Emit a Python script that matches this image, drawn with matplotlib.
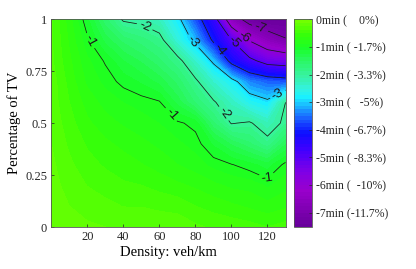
import numpy as np
import matplotlib
matplotlib.use('Agg')
import matplotlib.pyplot as plt
from matplotlib.colors import LinearSegmentedColormap

# ---- data ----
density = [0, 10, 20, 30, 40, 50, 60, 70, 80, 90, 100, 110, 120, 130]
tv_share = [0.0, 0.1, 0.2, 0.3, 0.4, 0.5, 0.6, 0.7, 0.8, 0.9, 1.0]

row_000 = [-0.15, -0.20, -0.23, -0.25, -0.27, -0.28, -0.30, -0.30, -0.35, -0.40, -0.42, -0.45, -0.50, -0.45]
row_010 = [-0.18, -0.25, -0.30, -0.34, -0.38, -0.38, -0.40, -0.42, -0.50, -0.55, -0.60, -0.65, -0.70, -0.65]
row_020 = [-0.20, -0.30, -0.38, -0.43, -0.48, -0.50, -0.55, -0.60, -0.65, -0.72, -0.78, -0.80, -0.90, -0.80]
row_030 = [-0.22, -0.35, -0.45, -0.52, -0.57, -0.62, -0.68, -0.75, -0.82, -0.92, -0.99, -1.08, -1.20, -0.95]
row_040 = [-0.25, -0.40, -0.52, -0.60, -0.66, -0.72, -0.78, -0.85, -0.93, -1.15, -1.40, -1.60, -1.85, -1.40]
row_050 = [-0.28, -0.45, -0.60, -0.70, -0.77, -0.82, -0.88, -0.97, -1.05, -1.60, -2.02, -1.95, -2.25, -1.90]
row_060 = [-0.30, -0.50, -0.68, -0.80, -0.88, -0.93, -0.98, -1.30, -1.65, -1.95, -2.30, -2.70, -2.90, -2.00]
row_070 = [-0.30, -0.55, -0.78, -0.92, -1.05, -1.15, -1.30, -1.55, -1.92, -2.40, -2.80, -3.40, -3.60, -3.70]
row_080 = [-0.35, -0.60, -0.85, -1.02, -1.25, -1.40, -1.60, -1.85, -2.40, -3.10, -4.20, -4.80, -5.30, -5.40]
row_090 = [-0.35, -0.65, -0.97, -1.30, -1.55, -1.70, -1.85, -2.50, -3.15, -4.10, -5.00, -6.05, -6.60, -6.95]
row_100 = [-0.35, -0.70, -1.10, -1.60, -2.05, -2.10, -2.30, -2.85, -3.70, -4.60, -6.60, -7.30, -7.50, -7.45]

delay_rows = [row_000, row_010, row_020, row_030, row_040, row_050,
              row_060, row_070, row_080, row_090, row_100]

line_levels = [-7, -6, -5, -4, -3, -2, -1]
cbar_ticks = [0, -1, -2, -3, -4, -5, -6, -7]
cbar_labels = ['0min (    0%)', '-1min ( -1.7%)', '-2min ( -3.3%)', '-3min (   -5%)',
               '-4min ( -6.7%)', '-5min ( -8.3%)', '-6min (  -10%)', '-7min (-11.7%)']
y_ticks = [0, 0.25, 0.5, 0.75, 1]
y_ticklabels = ['0', '0.25', '0.5', '0.75', '1']
x_ticks = [20, 40, 60, 80, 100, 120]

# ---- style ----
plt.rcParams['font.family'] = ['Liberation Serif', 'DejaVu Serif']

cmap = LinearSegmentedColormap.from_list('delay', [
    (0.0 / 7.52, (0.40, 0.00, 0.60)),
    (1.3 / 7.52, (0.60, 0.00, 0.80)),
    (2.0 / 7.52, (0.50, 0.00, 0.90)),
    (2.8 / 7.52, (0.25, 0.00, 1.00)),
    (3.4 / 7.52, (0.05, 0.05, 1.00)),
    (3.9 / 7.52, (0.10, 0.35, 1.00)),
    (4.3 / 7.52, (0.10, 0.65, 1.00)),
    (4.7 / 7.52, (0.10, 0.95, 1.00)),
    (5.0 / 7.52, (0.20, 0.95, 0.88)),
    (5.5 / 7.52, (0.22, 0.95, 0.62)),
    (6.0 / 7.52, (0.17, 0.97, 0.40)),
    (6.5 / 7.52, (0.10, 1.00, 0.15)),
    (7.0 / 7.52, (0.22, 1.00, 0.03)),
    (1.0, (0.47, 1.00, 0.00)),
])

X, Y = np.meshgrid(density, tv_share)
Z = np.array(delay_rows)

W, H = 416, 269
fig = plt.figure(figsize=(W / 100, H / 100), dpi=100)
ax = fig.add_axes([51.3 / W, (H - 227) / H, (285.5 - 51.3) / W, (227 - 19.3) / H])
cax = fig.add_axes([294 / W, (H - 227) / H, 18 / W, (227 - 19.3) / H])

fill_levels = np.linspace(-7.52, 0, 61)
cf = ax.contourf(X, Y, Z, levels=fill_levels, cmap=cmap, vmin=-7.52, vmax=0)
cs = ax.contour(X, Y, Z, levels=line_levels, colors='#1a1a1a', linewidths=0.55,
                linestyles='solid', negative_linestyles='solid')
label_pos = [(20.4, 0.89), (67.6, 0.55), (119.8, 0.235), (51, 0.95), (94.8, 0.54),
             (78.2, 0.89), (125, 0.65), (92.6, 0.85), (101, 0.885), (107.6, 0.92), (116, 0.96)]
labels = ax.clabel(cs, fmt='%d', fontsize=9.5, inline=True, inline_spacing=3, manual=label_pos)
for t in labels:
    t.set_fontfamily('Liberation Sans')

ax.set_xlim(0, 130)
ax.set_ylim(0, 1)
ax.set_xticks(x_ticks)
ax.set_yticks(y_ticks)
ax.set_yticklabels(y_ticklabels)
ax.tick_params(direction='in', length=2.5, width=0.5, labelsize=9, colors='#262626', pad=3)
for s in ax.spines.values():
    s.set_linewidth(0.6)
    s.set_color('#555555')
ax.set_xlabel('Density: veh/km', fontsize=10.5, labelpad=2)
ax.set_ylabel('Percentage of TV', fontsize=10.5, labelpad=3)

cb = fig.colorbar(cf, cax=cax, ticks=cbar_ticks)
cb.ax.set_yticklabels(cbar_labels)
cb.ax.tick_params(direction='in', length=2.5, width=0.5, labelsize=8.5, colors='#262626', pad=3)
cb.outline.set_linewidth(0.6)
cb.outline.set_edgecolor('#555555')

fig.savefig('out.png', dpi=100)
